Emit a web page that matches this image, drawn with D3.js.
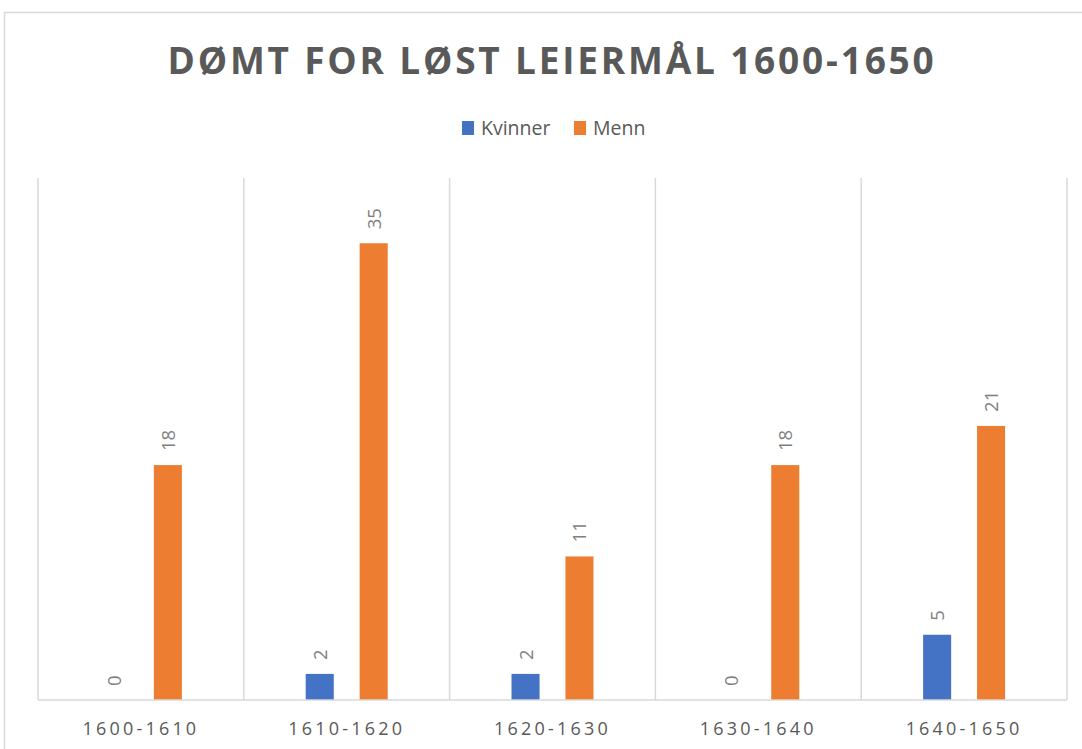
<!DOCTYPE html>
<html><head><meta charset="utf-8">
<script src="https://cdn.jsdelivr.net/npm/d3@7"></script>
<style>body{margin:0;background:#fff}svg{display:block}</style>
</head><body>
<svg id="c" width="1082" height="749"></svg>
<script>
const categories = ["1600-1610","1610-1620","1620-1630","1630-1640","1640-1650"];
const kvinner = [0,2,2,0,5];
const menn = [18,35,11,18,21];
const seriesNames = ["Kvinner","Menn"];
const colors = ["#4472C4","#ED7D31"];
const title = "DØMT FOR LØST LEIERMÅL 1600-1650";

const svg = d3.select("#c");
const W = 1082, H = 749;
const m = {left:38, right:15, top:178, bottom:49};
const iw = W - m.left - m.right, ih = H - m.top - m.bottom;

svg.append("rect").attr("x",4.5).attr("y",12.5).attr("width",1100).attr("height",800)
  .attr("fill","#fff").attr("stroke","#d9d9d9").attr("stroke-width",1.5);

const x = d3.scaleBand().domain(categories).range([m.left, m.left+iw]).paddingInner(0).paddingOuter(0);
const xs = d3.scaleBand().domain(seriesNames).range([0, x.bandwidth()]).paddingInner(0.48).paddingOuter(1.148);
const y = d3.scaleLinear().domain([0,40]).range([m.top+ih, m.top]);

// separators
const g = svg.append("g");
categories.concat(["end"]).forEach((c,i)=>{
  const xx = m.left + i*x.bandwidth();
  g.append("line").attr("x1",xx).attr("x2",xx).attr("y1",m.top).attr("y2",m.top+ih)
   .attr("stroke","#d9d9d9").attr("stroke-width",1.5);
});

const data = categories.map((c,i)=>({c, vals:[kvinner[i], menn[i]]}));
const grp = svg.append("g").selectAll("g").data(data).join("g")
  .attr("transform", d=>`translate(${x(d.c)},0)`);
grp.selectAll("rect").data(d=>d.vals.map((v,j)=>({v,s:seriesNames[j],j}))).join("rect")
  .attr("x", d=>xs(d.s)).attr("width", xs.bandwidth())
  .attr("y", d=>y(d.v)).attr("height", d=>y(0)-y(d.v))
  .attr("fill", d=>colors[d.j]);
grp.selectAll("text").data(d=>d.vals.map((v,j)=>({v,s:seriesNames[j],j}))).join("text")
  .attr("transform", d=>`translate(${xs(d.s)+xs.bandwidth()/2+7},${y(d.v)-14}) rotate(-90)`)
  .attr("text-anchor","start")
  .attr("font-family","'Open Sans', sans-serif").attr("font-size",18.5).attr("fill","#7f7f7f")
  .text(d=>d.v);

// baseline
svg.append("line").attr("x1",m.left).attr("x2",m.left+iw).attr("y1",y(0)).attr("y2",y(0))
  .attr("stroke","#d9d9d9").attr("stroke-width",1.5);

// x axis labels
const xa = svg.append("g").attr("transform",`translate(0,${y(0)})`)
  .call(d3.axisBottom(x).tickSize(0).tickPadding(0));
xa.select(".domain").remove();
xa.selectAll("text").attr("y",35).attr("font-family","'Open Sans', sans-serif")
  .attr("font-size",18).attr("fill","#595959").attr("letter-spacing","3.2px").attr("dy",0);

// title
svg.append("text").attr("x",552).attr("y",74).attr("text-anchor","middle")
  .attr("font-family","'Open Sans', sans-serif").attr("font-weight","bold")
  .attr("font-size",37).attr("letter-spacing","2.8px").attr("fill","#595959").text(title);

// legend
const lg = svg.append("g");
const items = [{n:"Kvinner",x:462},{n:"Menn",x:574}];
items.forEach((it,i)=>{
  lg.append("rect").attr("x",it.x).attr("y",121).attr("width",12).attr("height",14).attr("fill",colors[i]);
  lg.append("text").attr("x",it.x+19).attr("y",135).attr("font-family","'Open Sans', sans-serif")
    .attr("font-size",19.5).attr("fill","#595959").text(it.n);
});
</script>
</body></html>
